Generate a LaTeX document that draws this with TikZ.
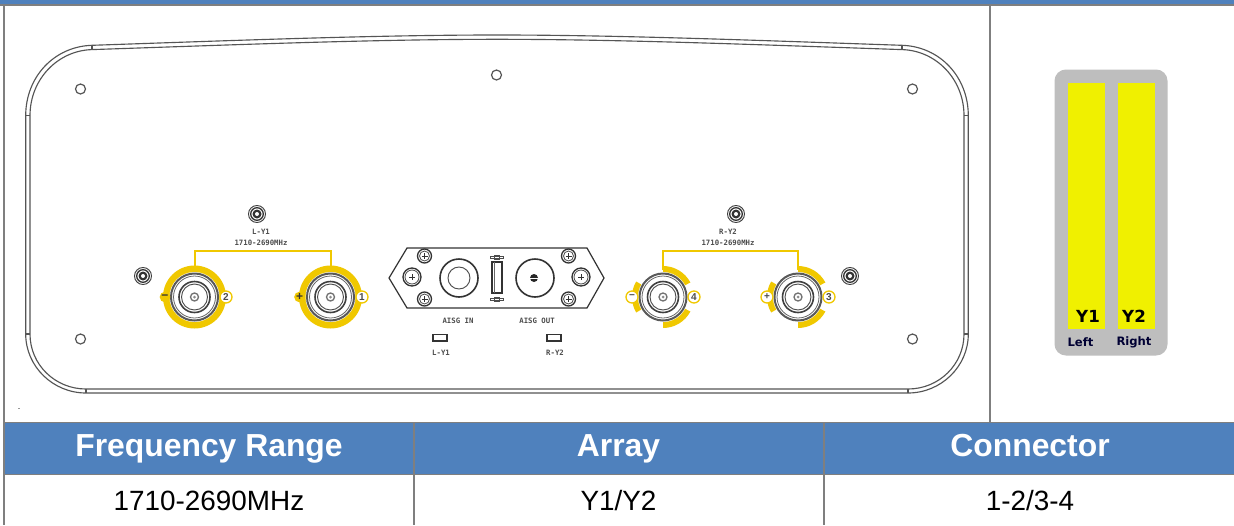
\documentclass[tikz,border=0pt]{standalone}
\usepackage{fontspec}
\setmainfont{Liberation Sans}
\newfontfamily\tahomalike{DejaVu Sans}
\newfontfamily\cadfont{DejaVu Sans Mono}
\definecolor{hdrblue}{HTML}{4F81BD}
\definecolor{gridgrey}{HTML}{7F7F7F}
\definecolor{linegrey}{HTML}{555555}
\definecolor{gold}{HTML}{F0C800}
\definecolor{barfill}{HTML}{F0F000}
\definecolor{panel}{HTML}{BEBEBE}
\tikzset{
  x=0.75pt,y=-0.75pt,
  grid/.style={draw=gridgrey,line width=1.3pt},
  thingrid/.style={draw=gridgrey,line width=1.25pt},
  body/.style={draw=linegrey,line width=0.85pt},
  hole/.style={draw=linegrey,line width=0.9pt},
  hdr/.style={font=\bfseries\fontsize{23.9}{26}\selectfont,text=white,anchor=base},
  cell/.style={font=\fontsize{20.9}{23}\selectfont,text=black,anchor=base},
  cad/.style={font=\cadfont\bfseries\fontsize{5.5}{6}\selectfont,text=black!70},
  pin/.style={circle,draw=gold,fill=white,line width=1pt,inner sep=0pt,minimum size=9pt,font=\bfseries\fontsize{7.5}{7}\selectfont,text=black!70},
  solidpin/.style={circle,fill=gold,inner sep=0pt,minimum size=8pt,font=\bfseries\fontsize{9}{8}\selectfont,text=black!80}
}
\newcommand{\screwA}[2]{
  \draw[line width=0.7pt,draw=black!75] (#1,#2) circle[radius=8.5];
  \draw[line width=1pt,draw=black!80] (#1,#2) circle[radius=6.3];
  \fill[black!80] (#1,#2) circle[radius=4.5];
  \fill[white] (#1,#2) circle[radius=2];
}
\newcommand{\coax}[2]{
  \fill[white] (#1,#2) circle[radius=25];
  \draw[line width=1.5pt,draw=black!65] (#1,#2) circle[radius=23.5];
  \draw[line width=0.6pt,draw=black!60] (#1,#2) circle[radius=21];
  \draw[line width=1.2pt,draw=black!75] (#1,#2) circle[radius=15.5];
  \draw[line width=0.7pt,draw=black!70] (#1,#2) circle[radius=13];
  \draw[line width=1pt,draw=black!55] (#1,#2) circle[radius=4];
  \fill[black!45] (#1,#2) circle[radius=1.5];
}
\newcommand{\pscrew}[3]{
  \draw[line width=1pt,draw=black!80] (#1,#2) circle[radius=#3];
  \draw[line width=0.6pt,draw=black!70] (#1,#2) circle[radius=#3-2];
  \draw[line width=0.7pt,draw=black!80] (#1-3,#2) -- (#1+3,#2) (#1,#2-3) -- (#1,#2+3);
}
\newcommand{\sector}[3]{
  \fill[gold] (#1,297) ++(#2:31) arc[start angle=#2,end angle=#3,radius=31] -- ++(#3:-11) arc[start angle=#3,end angle=#2,radius=20] -- cycle;
}
\begin{document}
\begin{tikzpicture}
\useasboundingbox (0,0) rectangle (1234,525);
\fill[white] (0,0) rectangle (1234,525);
\fill[hdrblue] (0,0) rectangle (1234,4);
\fill[gridgrey] (0,4) rectangle (1234,6);
\fill[hdrblue] (5,423) rectangle (1234,474);
\draw[grid] (4,5) -- (4,525);
\draw[grid] (990,5) -- (990,422);
\draw[grid] (4,422.5) -- (1234,422.5);
\draw[grid] (4,474.5) -- (1234,474.5);
\draw[thingrid] (414,422) -- (414,525);
\draw[thingrid] (824,422) -- (824,525);
\node[hdr] (h1) at (209,456) {Frequency Range};
\node[hdr] (h2) at (618.5,456) {Array};
\node[hdr] (h3) at (1030,456) {Connector};
\node[cell] (c1) at (209,510) {1710-2690MHz};
\node[cell] (c2) at (618.5,510) {Y1/Y2};
\node[cell] (c3) at (1030,510) {1-2/3-4};
% antenna body outline
\draw[body] (25.7,115.7) .. controls (25.7,77) and (54,46.5) .. (92,45.3)
  .. controls (234,40.5) and (374,35) .. (497,35) .. controls (620,35) and (760,40.5) .. (902,45.3)
  .. controls (940,46.5) and (968.3,77) .. (968.3,115.7) -- (968.3,334)
  .. controls (968.3,366.5) and (941,393) .. (908,393) -- (86,393)
  .. controls (53,393) and (25.7,366.5) .. (25.7,334) -- cycle;
\draw[body] (30,115.7) .. controls (30,79) and (58,50.5) .. (92,49.6)
  .. controls (234,44.8) and (374,39.3) .. (497,39.3) .. controls (620,39.3) and (760,44.8) .. (902,49.6)
  .. controls (936,50.5) and (964,79) .. (964,115.7) -- (964,334)
  .. controls (964,364.5) and (939,389) .. (908,389) -- (86,389)
  .. controls (55,389) and (30,364.5) .. (30,334) -- cycle;
\draw[body] (25.7,115.7) -- (30,115.7) (25.7,334) -- (30,334) (964,115.7) -- (968.3,115.7) (964,334) -- (968.3,334)
  (92,45.3) -- (92,49.6) (902,45.3) -- (902,49.6) (86,389) -- (86,393) (908,389) -- (908,393);
\foreach \px/\py in {80.5/89,496.5/75,912.5/89,80.5/339,912.5/339}
  \draw[hole] (\px,\py) circle[radius=5];
\screwA{257}{214}
\screwA{143}{276}
\screwA{736}{214}
\screwA{850}{276}
% left connectors
\draw[gold,line width=1.1pt] (195,275) -- (195,251) -- (331,251) -- (331,275);
\fill[gold] (194.5,297) circle[radius=31.5];
\fill[gold] (330.5,297) circle[radius=31.5];
\coax{194.5}{297}
\coax{330.5}{297}
\node[solidpin] (m2) at (165,297) {−};
\node[solidpin] (p1) at (299.5,297) {+};
\node[pin] (n2) at (226,297) {2};
\node[pin] (n1) at (362,297) {1};
\node[cad] (lyl) at (261,232) {L-Y1};
\node[cad] (lyf) at (261,243) {1710-2690MHz};
% right connectors
\draw[gold,line width=1.1pt] (663,270) -- (663,251) -- (798,251) -- (798,270);
\foreach \cx in {663,798}{
  \sector{\cx}{90}{28}
  \sector{\cx}{-90}{-28}
  \sector{\cx}{150}{210}
}
\coax{663}{297}
\coax{798}{297}
\node[pin] (m4) at (632,297) {−};
\node[pin] (p3) at (767,297) {+};
\node[pin] (n4) at (694,297) {4};
\node[pin] (n3) at (829,297) {3};
\node[cad] (ryl) at (728,232) {R-Y2};
\node[cad] (ryf) at (728,243) {1710-2690MHz};
% AISG plate
\draw[line width=0.9pt,draw=black!80] (389,278) -- (407,248) -- (587,248) -- (604,278) -- (587,308) -- (407,308) -- cycle;
\pscrew{424.5}{256}{7}
\pscrew{424.5}{299}{7}
\pscrew{412}{277}{9}
\pscrew{568.5}{256}{7}
\pscrew{568.5}{299}{7}
\pscrew{581}{277}{9}
\draw[line width=1.2pt,draw=black!80] (459,278) circle[radius=19];
\draw[line width=0.7pt,draw=black!70] (459,278) circle[radius=11];
\draw[line width=1.2pt,draw=black!80] (535,278) circle[radius=19];
\fill[black!85] (534,278) circle[radius=4];
\draw[white,line width=0.5pt] (530,278) -- (538,278);
\draw[line width=0.9pt,draw=black!80] (492,262) rectangle (502,293);
\draw[line width=0.5pt,draw=black!60] (494,262) -- (494,293);
\draw[line width=0.6pt,draw=black!70] (490,256) rectangle (503,258) (490,298) rectangle (503,300);
\draw[line width=0.6pt,draw=black!70] (494,255) rectangle (499,259) (494,297) rectangle (499,301);
\node[cad] (ain) at (458,320.5) {AISG IN};
\node[cad] (aout) at (537,320.5) {AISG OUT};
\draw[line width=0.8pt,draw=black!80] (433,334.5) rectangle (447,341);
\draw[line width=0.8pt,draw=black!80] (547,334.5) rectangle (561,341);
\node[cad] (ly2) at (441,353) {L-Y1};
\node[cad] (ry2) at (555,353) {R-Y2};
\draw[black!40,line width=0.3pt] (18,408.5) -- (20,408.5);
% array panel
\fill[panel,rounded corners=8.5pt] (1054.5,69.5) rectangle (1167.5,355.5);
\fill[barfill] (1068,83) rectangle (1105,329);
\fill[barfill] (1118,83) rectangle (1155,329);
\node[font=\tahomalike\bfseries\fontsize{12.5}{14}\selectfont,text=black] (y1) at (1088,316) {Y1};
\node[font=\tahomalike\bfseries\fontsize{12.5}{14}\selectfont,text=black] (y2) at (1134,316) {Y2};
\node[font=\tahomalike\bfseries\fontsize{8.7}{11}\selectfont,text=black!80!blue] (lf) at (1080.5,342) {Left};
\node[font=\tahomalike\bfseries\fontsize{8.7}{11}\selectfont,text=black!80!blue] (rg) at (1134,342) {Right};
\end{tikzpicture}
\end{document}
